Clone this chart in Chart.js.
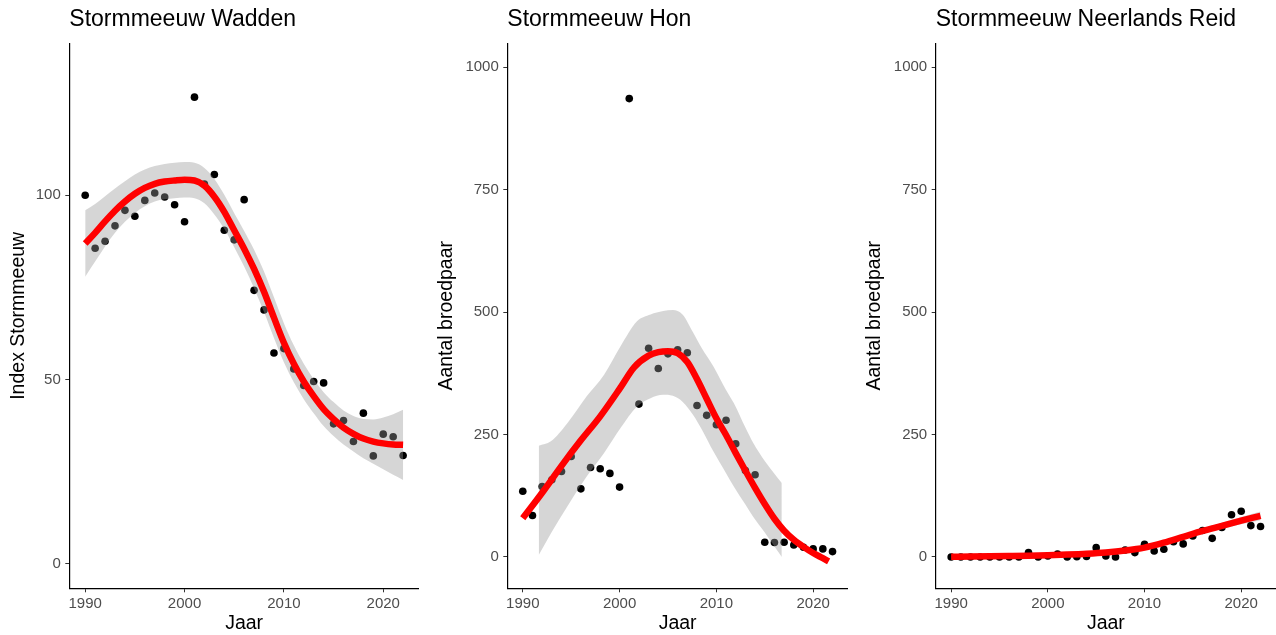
<!DOCTYPE html>
<html>
<head>
<meta charset="utf-8">
<title>Stormmeeuw</title>
<script src="https://cdn.jsdelivr.net/npm/chart.js@4.4.1/dist/chart.umd.min.js"></script>
<style>
  html, body { margin: 0; padding: 0; background: #fff; width: 1276px; height: 635px; overflow: hidden; }
  canvas { position: absolute; top: 0; }
</style>
</head>
<body>
<canvas id="wadden" width="419" height="635" style="left:0px"></canvas>
<canvas id="hon" width="418" height="635" style="left:430px"></canvas>
<canvas id="neerlands" width="418" height="635" style="left:858px"></canvas>
<script>
// Stormmeeuw - three panels: counts per year + smoothed trend with band

const years = [1990, 1991, 1992, 1993, 1994, 1995, 1996, 1997, 1998, 1999, 2000,
    2001, 2002, 2003, 2004, 2005, 2006, 2007, 2008, 2009, 2010,
    2011, 2012, 2013, 2014, 2015, 2016, 2017, 2018, 2019, 2020, 2021, 2022];

const yearTicks = [1990, 2000, 2010, 2020];
const indexTicks = [0, 50, 100];
const countTicks = [0, 250, 500, 750, 1000];

// Wadden: index
const wadIndex = [100, 85.6, 87.5, 91.7, 95.9, 94.3, 98.6, 100.6, 99.5, 97.4, 92.8,
    126.6, 103, 105.6, 90.5, 87.9, 98.8, 74.2, 68.9, 57.2, 58.4,
    52.9, 48.4, 49.5, 49.1, 38.0, 38.9, 33.2, 40.9, 29.3, 35.2, 34.5, 29.4];
const wadFit = [86.9, 89.8, 92.9, 95.8, 98.3, 100.4, 102, 103.1, 103.7, 104, 104.2,
    104, 102.6, 99.6, 95.5, 90.5, 85.5, 80, 73.8, 66.8, 60,
    54.3, 49.5, 45.5, 42, 39.3, 37, 35.3, 34, 33.2, 32.7, 32.4, 32.3];
const wadUpper = [95.9, 97.6, 99.7, 101.8, 103.8, 105.6, 107, 107.9, 108.5, 108.8, 109,
    108.8, 107.4, 104.4, 100.1, 95.1, 90.3, 85.2, 79.3, 72.3, 65.3,
    59.3, 54.3, 50.1, 46.6, 43.9, 41.6, 40.1, 39.3, 39.2, 39.7, 40.6, 41.8];
const wadLower = [77.9, 82.0, 86.1, 89.8, 92.8, 95.2, 97, 98.3, 98.9, 99.2, 99.4,
    99.2, 97.8, 94.8, 90.9, 85.9, 80.7, 74.8, 68.3, 61.3, 54.7,
    49.3, 44.7, 40.9, 37.4, 34.7, 32.4, 30.5, 28.7, 27.2, 25.7, 24.2, 22.8];

// Hon: broedparen
const honCount = [134, 84.5, 143.8, 157.5, 174.5, 205, 139, 182.7, 180, 170.5, 142.6,
    935.6, 312, 426, 384.6, 414.6, 422.8, 416.7, 309, 289, 270,
    278.9, 231, 176.6, 167.8, 30, 29.4, 30, 24.5, 19.8, 16.4, 16.4, 10.9];
const honFitYears = [1990, 1992, 1994, 1996, 1998, 2000, 2001.5, 2003, 2004, 2005, 2006,
    2007, 2008, 2009, 2010, 2011, 2012, 2013, 2014, 2015, 2016,
    2017, 2018, 2019, 2020, 2021, 2021.6];
const honFit = [79, 131, 186, 238, 287, 343, 387, 411, 418, 420, 416,
    398, 363, 323, 283, 249, 212, 176, 141, 108, 78,
    53.5, 35, 20.5, 8, -2.5, -9];
const honBandYears = [1991.65, 1992.9, 1994.6, 1996.6, 1998.4, 2000.1, 2001.8, 2003.2, 2004.5, 2005.5,
    2006.5, 2007.6, 2008.5, 2009.7, 2011, 2011.8, 2013, 2013.8, 2015, 2016.76];
const honUpper = [227, 236, 273, 328, 372, 430, 481, 495, 502, 504,
    495, 458, 426, 389, 341, 314, 264, 233, 196, 151];
const honLower = [4, 48, 103, 164, 212, 263, 307, 324, 331, 329,
    317, 290, 260, 215, 171, 144, 107, 82, 50, 0];

// Neerlands Reid: broedparen
const neerCount = [0, 0, 0, 0, 0, 0, 0, 0, 8.9, 0, 2,
    6, 0, 0.5, 1, 19, 2, 0, 14.3, 8.9, 26,
    12, 15.7, 31, 26.6, 43, 54, 38, 60, 86, 93.4, 64, 62];
const neerFitYears = [1990, 1992, 1994, 1996, 1998, 2000, 2002, 2004, 2006,
    2008, 2010, 2012, 2014, 2016, 2018, 2020, 2022];
const neerFit = [0.5, 0.8, 1.2, 1.8, 2.5, 3.5, 4.8, 6.5, 9, 13, 19, 29, 41, 53, 63.5, 74, 84];
const neerUpper = [4.5, 3.8, 4.2, 4.8, 5.5, 6.5, 7.8, 9.5, 12, 16.5, 23, 33.5, 46, 58.5, 70, 81.5, 93];
const neerLower = [-3.5, -2.2, -1.8, -1.2, -0.5, 0.5, 1.8, 3.5, 6, 9.5, 15, 24.5, 36, 47.5, 57, 66.5, 75];

const FONT = '"Liberation Sans", Arial, Helvetica, sans-serif';
Chart.defaults.font.family = FONT;

const xy = (xs, ys) => xs.map((x, i) => ({ x: x, y: ys[i] }));

function drawPanel(id, p) {
    const ctx = document.getElementById(id);
    return new Chart(ctx, {
        type: 'line',
        data: {
            datasets: [
                {   // observations
                    data: xy(years, p.points), showLine: false,
                    pointRadius: 3.8, pointBackgroundColor: '#000', pointBorderWidth: 0,
                    order: 3
                },
                {   // band, filled down to the next dataset
                    data: xy(p.bandX, p.upper), fill: '+1',
                    backgroundColor: 'rgba(153,153,153,0.4)', borderColor: 'rgba(0,0,0,0)',
                    borderWidth: 0, pointRadius: 0, cubicInterpolationMode: 'monotone', order: 2
                },
                {
                    data: xy(p.bandX, p.lower), fill: false,
                    borderColor: 'rgba(0,0,0,0)', borderWidth: 0, pointRadius: 0,
                    cubicInterpolationMode: 'monotone', order: 2
                },
                {   // trend
                    data: xy(p.fitX, p.fit), fill: false, borderColor: '#FF0000', borderWidth: 6.5,
                    pointRadius: 0, cubicInterpolationMode: 'monotone', order: 1
                }
            ]
        },
        options: {
            responsive: false,
            animation: false,
            events: [],
            layout: { padding: 0, autoPadding: false },
            plugins: {
                legend: { display: false },
                tooltip: { enabled: false },
                title: {
                    display: true, text: p.title, align: 'start', fullSize: false,
                    color: '#000', font: { size: 23, weight: 'normal' },
                    padding: { top: 5.7, bottom: 10 }
                }
            },
            scales: {
                x: {
                    type: 'linear', min: 1988.4, max: 2023.6,
                    afterBuildTicks: s => { s.ticks = yearTicks.map(v => ({ value: v })); },
                    afterFit: s => { s.height = 46.7; },
                    ticks: { color: '#4D4D4D', font: { size: 15 }, padding: 2.4, maxRotation: 0, autoSkip: false, callback: v => String(v) },
                    grid: { drawOnChartArea: false, tickLength: 4, color: '#333333' },
                    border: { color: '#000', width: 1.2 },
                    title: { display: true, text: 'Jaar', color: '#000', font: { size: 19.5 }, padding: { top: 0, bottom: 0 } }
                },
                y: {
                    min: p.yMin, max: p.yMax,
                    afterBuildTicks: s => { s.ticks = p.yTicks.map(v => ({ value: v })); },
                    afterFit: s => { s.width = p.axisWidth; },
                    ticks: { color: '#4D4D4D', font: { size: 15 }, padding: 4.5, callback: v => String(v) },
                    grid: { drawOnChartArea: false, tickLength: 4, color: '#333333' },
                    border: { color: '#000', width: 1.2 },
                    title: { display: true, text: p.yTitle, color: '#000', font: { size: 19.5 }, padding: { top: p.titlePad, bottom: 0 } }
                }
            }
        }
    });
}

drawPanel('wadden', {
    title: 'Stormmeeuw Wadden', yTitle: 'Index Stormmeeuw',
    points: wadIndex, fitX: years, fit: wadFit, bandX: years, upper: wadUpper, lower: wadLower,
    yMin: -6.6, yMax: 141.2, yTicks: indexTicks, axisWidth: 69.3, titlePad: 6.8
});

drawPanel('hon', {
    title: 'Stormmeeuw Hon', yTitle: 'Aantal broedpaar',
    points: honCount, fitX: honFitYears, fit: honFit, bandX: honBandYears, upper: honUpper, lower: honLower,
    yMin: -64, yMax: 1048.5, yTicks: countTicks, axisWidth: 77.3, titlePad: 5.3
});

drawPanel('neerlands', {
    title: 'Stormmeeuw Neerlands Reid', yTitle: 'Aantal broedpaar',
    points: neerCount, fitX: neerFitYears, fit: neerFit, bandX: neerFitYears, upper: neerUpper, lower: neerLower,
    yMin: -64, yMax: 1048.5, yTicks: countTicks, axisWidth: 77.7, titlePad: 5.3
});
</script>
</body>
</html>
